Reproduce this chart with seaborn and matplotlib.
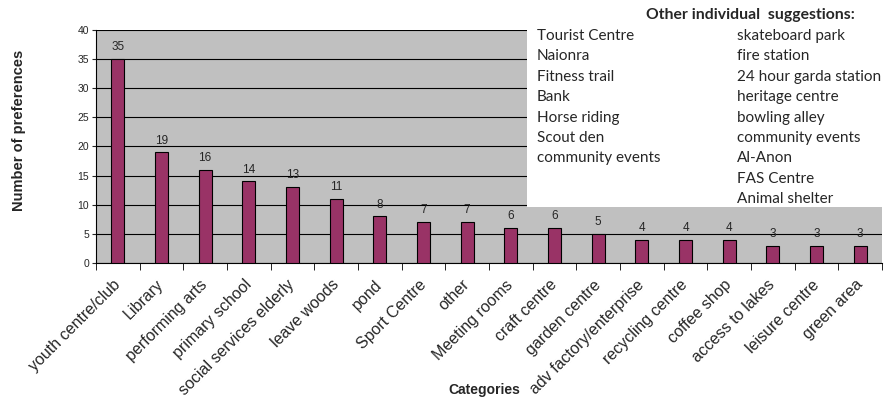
import matplotlib
matplotlib.use("Agg")
import matplotlib.pyplot as plt
import seaborn as sns
import pandas as pd

categories = ["youth centre/club", "Library", "performing arts", "primary school",
              "social services elderly", "leave woods", "pond", "Sport Centre", "other",
              "Meeting rooms", "craft centre", "garden centre", "adv factory/enterprise",
              "recycling centre", "coffee shop", "access to lakes", "leisure centre", "green area"]
counts = [35, 19, 16, 14, 13, 11, 8, 7, 7, 6, 6, 5, 4, 4, 4, 3, 3, 3]

suggest_col1 = ["Tourist Centre", "Naionra", "Fitness trail", "Bank", "Horse riding",
                "Scout den", "community events"]
suggest_col2 = ["skateboard park", "fire station", "24 hour garda station", "heritage centre",
                "bowling alley", "community events", "Al-Anon", "FAS Centre", "Animal shelter"]

sns.set_style("white")
plt.rcParams['font.family'] = ['Liberation Sans', 'DejaVu Sans']

df = pd.DataFrame({'Categories': categories, 'Count': counts})

fig = plt.figure(figsize=(8.86, 4.03), dpi=100)
ax = fig.add_axes([96/886, 1-263/403, 786/886, 233/403])
ax.set_facecolor('#C0C0C0')
sns.barplot(data=df, x='Categories', y='Count', color='#993366', width=0.3,
            edgecolor='black', linewidth=0.8, saturation=1, ax=ax, zorder=3)
ax.set_ylim(0, 40)
ax.set_xlim(-0.5, len(categories) - 0.5)
ax.set_yticks(range(0, 41, 5))
ax.yaxis.grid(True, color='black', linewidth=0.8, zorder=0)
ax.set_axisbelow(True)
for s in ['top', 'right']:
    ax.spines[s].set_visible(False)
ax.spines['left'].set_color('black')
ax.spines['bottom'].set_color('black')
ax.tick_params(axis='y', labelsize=7.5, length=3, direction='out', left=True, pad=2)
ax.tick_params(axis='x', which='major', length=0, pad=14)
# category separator ticks
ax.set_xticks([i - 0.5 for i in range(len(categories) + 1)], minor=True)
ax.tick_params(axis='x', which='minor', length=5, bottom=True, color='black')
ax.set_xticklabels(categories, rotation=45, ha='right', va='center',
                   rotation_mode='anchor', fontsize=11.5)
for i, v in enumerate(counts):
    ax.text(i, v + 1, str(v), ha='center', va='bottom', fontsize=8.5, zorder=5)

ax.set_ylabel('Number of preferences', fontsize=10.5, fontweight='bold')
ax.yaxis.set_label_coords(-0.089, 0.57)
ax.set_xlabel('Categories', fontsize=10, fontweight='bold')
ax.xaxis.set_label_coords(0.494, -0.515)

# white box with other suggestions
box = plt.Rectangle((527/886, 1-207/403), 1-527/886, 207/403, transform=fig.transFigure,
                    facecolor='white', edgecolor='none', zorder=10)
fig.patches.append(box)
tfont = ['Lato', 'DejaVu Sans']
fig.text(750/886, 1-15/403, 'Other individual  suggestions:', ha='center', va='center',
         fontsize=11.3, fontweight='bold', family=tfont, zorder=11)
for j, t in enumerate(suggest_col1):
    fig.text(537/886, 1-(36 + j*20.4)/403, t, ha='left', va='center', fontsize=11,
             family=tfont, zorder=11)
for j, t in enumerate(suggest_col2):
    fig.text(737/886, 1-(36 + j*20.4)/403, t, ha='left', va='center', fontsize=11,
             family=tfont, zorder=11)

fig.savefig('out.png', dpi=100)
